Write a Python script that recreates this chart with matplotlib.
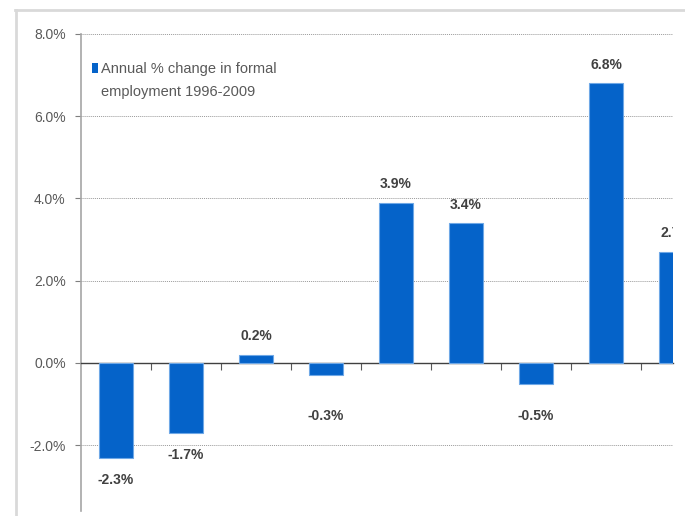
import matplotlib
matplotlib.use("Agg")
from matplotlib import pyplot as plt
from matplotlib.lines import Line2D
from matplotlib.patches import Rectangle
from matplotlib.ticker import FuncFormatter

# values (first nine years, last one cut off by the crop)
values = [-2.3, -1.7, 0.2, -0.3, 3.9, 3.4, -0.5, 6.8, 2.7]
yticks = [-2.0, 0.0, 2.0, 4.0, 6.0, 8.0]
legend_label = "Annual % change in formal\nemployment 1996-2009"

plt.rcParams['font.family'] = ['Liberation Sans', 'DejaVu Sans']
bar_color = '#0563C9'

fig = plt.figure(figsize=(6.85, 5.16), dpi=100)
ax = fig.add_axes([81/685, 1-511/516, (673-81)/685, (511-34)/516])

x = list(range(len(values)))
ax.bar(x, values, width=0.49, color=bar_color, edgecolor='#6FA8E6',
       linewidth=0.8, zorder=3)

# data labels
for xi, v in zip(x, values):
    if v >= 0:
        ypos = v + 0.45
    else:
        ypos = min(v - 0.55, -1.28)
    ax.text(xi, ypos, "%.1f%%" % v, ha='center', va='center', fontsize=10,
            fontweight='bold', color='#404040', clip_on=True, zorder=4)

ax.set_xlim(-0.5, -0.5 + (673-81)/70)
ax.set_ylim(-3.6, 8.0)
ax.set_yticks(yticks)
ax.yaxis.set_major_formatter(FuncFormatter(lambda v, p: "%.1f%%" % v))
ax.tick_params(axis='y', labelsize=10, labelcolor='#595959', color='#7f7f7f',
               length=4, width=0.8, pad=7)
ax.yaxis.grid(True, linestyle=(0, (1, 1)), color='#9a9a9a', linewidth=0.7)
ax.set_axisbelow(True)

ax.set_xticks([i + 0.5 for i in x[:-1]])
ax.set_xticklabels([])
ax.tick_params(axis='x', direction='out', length=5, width=0.8, color='#595959')

for s in ['top', 'right']:
    ax.spines[s].set_visible(False)
ax.spines['left'].set_color('#a6a6a6')
ax.spines['left'].set_linewidth(1.2)
ax.spines['bottom'].set_position(('data', 0))
ax.spines['bottom'].set_color('#404040')
ax.spines['bottom'].set_linewidth(1.0)

# legend: small square key next to a two-line label
ax.add_patch(Rectangle((0.0186, 0.918), 0.0105, 0.021, transform=ax.transAxes,
                       facecolor=bar_color, edgecolor='none', clip_on=False))
ax.text(0.0338, 0.941, legend_label, transform=ax.transAxes, ha='left', va='top',
        fontsize=10.5, color='#595959', linespacing=1.8)

# outer chart frame (top and left edges visible in the crop)
fig.add_artist(Line2D([15/685, 1], [1-10/516, 1-10/516], color='#d9d9d9', linewidth=2))
fig.add_artist(Line2D([16/685, 16/685], [0, 1-10/516], color='#d9d9d9', linewidth=2))

fig.savefig("out.png", dpi=100)
